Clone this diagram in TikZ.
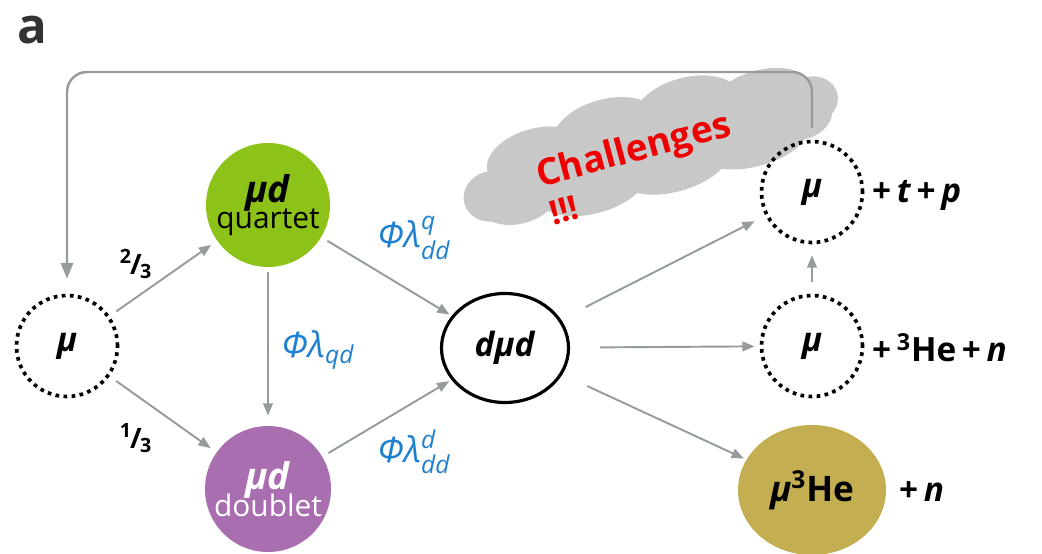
\documentclass[tikz,border=0pt]{standalone}
\usepackage{amsmath}
\usepackage{fontspec}
\setmainfont{Open Sans}
\usetikzlibrary{positioning,arrows.meta,shapes.geometric}
\definecolor{qgreen}{RGB}{141,194,24}
\definecolor{dpurple}{RGB}{168,110,176}
\definecolor{hegold}{RGB}{196,174,82}
\definecolor{arrgray}{RGB}{150,156,156}
\definecolor{cloudgray}{RGB}{200,200,200}
\definecolor{rateblue}{RGB}{30,128,208}
\definecolor{alarm}{RGB}{238,0,0}

\begin{document}
\begin{tikzpicture}[
      x=0.2mm, y=-0.2mm,
      state/.style={circle, inner sep=0pt, align=center, font=\fontsize{17}{18}\selectfont},
      free/.style={state, minimum size=20.2mm, draw=black, line width=2.1pt, dash pattern=on 2.1pt off 2.5pt,
                   font=\fontsize{19}{19}\selectfont},
      arr/.style={-{Triangle[length=7pt,width=5.5pt]}, draw=arrgray, line width=1.1pt},
      back/.style={-{Triangle[length=9pt,width=7pt]}, draw=arrgray, line width=1.4pt, rounded corners=4mm},
      rate/.style={text=rateblue, font=\fontsize{20}{20}\selectfont\itshape},
      frac/.style={font=\fontsize{16}{16}\selectfont\bfseries},
      prod/.style={anchor=west, font=\fontsize{19}{19}\selectfont\bfseries},
    ]
      \useasboundingbox (0,0) rectangle (1042,554);
      \node[font=\fontsize{28}{28}\selectfont\bfseries, text=black!80] (lbl) at (32,30) {a};

      % cloud
      \begin{scope}[shift={(650,149)}, rotate=15, scale=0.93, fill=cloudgray]
        \fill (0,0) ellipse [x radius=180, y radius=38];
        \fill (-120,-22) ellipse [x radius=55, y radius=32];
        \fill (-40,-30) ellipse [x radius=60, y radius=35];
        \fill (50,-30) ellipse [x radius=60, y radius=35];
        \fill (130,-22) ellipse [x radius=55, y radius=30];
        \fill (-150,12) ellipse [x radius=45, y radius=30];
        \fill (-70,22) ellipse [x radius=60, y radius=30];
        \fill (20,24) ellipse [x radius=60, y radius=28];
        \fill (110,20) ellipse [x radius=60, y radius=28];
        \fill (165,8) ellipse [x radius=35, y radius=25];
        \fill (-178,5) ellipse [x radius=30, y radius=27];
        \fill (182,-6) ellipse [x radius=28, y radius=25];
      \end{scope}
      \node[rotate=15, text=alarm, font=\fontsize{21}{21}\selectfont\bfseries] (chal) at (634,152) {Challenges};
      \node[rotate=15, text=alarm, font=\fontsize{19}{19}\selectfont\bfseries] (bang) at (564,210) {!!!};

      \node[free] (lmu) at (67,346) {\textbf{\textit{μ}}};
      \node[state, fill=qgreen, minimum size=24.8mm] (qrt) at (268,205) {{\fontsize{21}{21}\selectfont\textbf{\textit{μd}}}\\[-3pt]quartet};
      \node[state, fill=dpurple, text=white, minimum size=25.2mm] (dbl) at (268,489) {{\fontsize{21}{21}\selectfont\textbf{\textit{μd}}}\\[-3pt]doublet};
      \node[ellipse, draw=black, line width=1.8pt, minimum width=25.4mm, minimum height=21.8mm,
            font=\fontsize{19}{19}\selectfont] (dmd) at (505,348) {\textbf{\textit{dμd}}};
      \node[free] (tmu) at (812,192) {\textbf{\textit{μ}}};
      \node[free] (mmu) at (812,346) {\textbf{\textit{μ}}};
      \node[ellipse, fill=hegold, minimum width=29.6mm, minimum height=26mm,
            font=\fontsize{20}{20}\selectfont\bfseries] (mhe) at (812,490) {\textit{μ}\textsuperscript{3}He};

      \node[prod] (ptp) at (866,195) {+\,\textit{t}\,+\,\textit{p}};
      \node[prod] (phe) at (866,348) {+\,\textsuperscript{3}He\,+\,\textit{n}};
      \node[prod] (pn) at (893,492) {+\,\textit{n}};

      \draw[arr, shorten <=1.6mm, shorten >=1.4mm] (lmu) -- (qrt);
      \draw[arr, shorten <=1.6mm, shorten >=1.4mm] (lmu) -- (dbl);
      \draw[arr, shorten <=1mm, shorten >=2mm] (qrt) -- (dbl);
      \draw[arr, shorten <=1.4mm, shorten >=0.5mm] (qrt) -- (dmd);
      \draw[arr, shorten <=1.4mm, shorten >=0.5mm] (dbl) -- (dmd);
      \draw[arr, shorten <=5.5mm, shorten >=2.4mm] (dmd) -- (tmu);
      \draw[arr, shorten <=6mm, shorten >=1mm] (dmd) -- (mmu);
      \draw[arr, shorten <=5.5mm, shorten >=0.5mm] (dmd) -- (mhe);
      \draw[arr, shorten <=2.4mm, shorten >=2.2mm] (mmu) -- (tmu);

      \coordinate (lp) at (812,128);
      \coordinate (ltop) at (67,72);
      \draw[back, shorten >=3mm] (lp) |- (ltop) -- (lmu);

      \node[frac] (two) at (136,264) {\textsuperscript{2}\kern-1pt/\kern-1pt\textsubscript{3}};
      \node[frac] (one) at (136,438) {\textsuperscript{1}\kern-1pt/\kern-1pt\textsubscript{3}};
      \node[rate] (rq) at (414,238) {Φλ$^{\text{q}}_{\text{dd}}$};
      \node[rate] (rqd) at (318,350) {Φλ$_{\text{qd}}$};
      \node[rate] (rd) at (414,452) {Φλ$^{\text{d}}_{\text{dd}}$};
    \end{tikzpicture}
\end{document}
